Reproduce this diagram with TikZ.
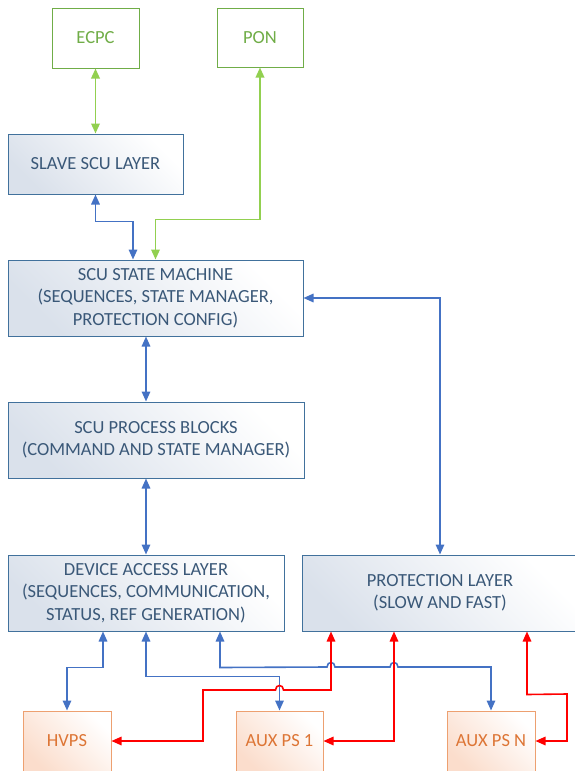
\documentclass[tikz,border=0pt]{standalone}
\usepackage{fontspec}
\setmainfont{Carlito}
\usepackage{tikz}
\usetikzlibrary{arrows.meta}

\definecolor{boxblue}{HTML}{41719C}
\definecolor{txtblue}{HTML}{3A5878}
\definecolor{fillblue}{HTML}{DAE1EB}
\definecolor{boxgreen}{HTML}{70AD47}
\definecolor{lnkgreen}{HTML}{92D050}
\definecolor{boxorange}{HTML}{EDA070}
\definecolor{txtorange}{HTML}{DD7535}
\definecolor{fillorange}{HTML}{FBDDCC}
\definecolor{lnkblue}{HTML}{4472C4}

\tikzset{
  layer/.style={draw=boxblue, line width=1pt, text=txtblue, align=center, inner sep=0pt,
    top color=fillblue, bottom color=white, shading angle=135},
  outside/.style={draw=boxgreen, line width=1pt, text=boxgreen, fill=white, inner sep=0pt},
  supply/.style={draw=boxorange, line width=1pt, text=txtorange, inner sep=0pt,
    top color=fillorange, bottom color=white, shading angle=135},
  bl/.style={lnkblue, line width=1.6pt, <->},
  gr/.style={lnkgreen, line width=1.8pt, <->},
  rd/.style={red, line width=1.6pt, <->}
}

\begin{document}
\begin{tikzpicture}[x=1pt, y=-1pt, >={Triangle[length=10pt,width=8.5pt]},
  every node/.style={font=\fontsize{18.5}{22.5}\selectfont}]

	\useasboundingbox (0,0) rectangle (575,771);
	\clip (0,0) rectangle (575,771);

	% outside world
	\node[outside, minimum width=87, minimum height=60] (ecpc) at (95.5,38) {ECPC};
	\node[outside, minimum width=86, minimum height=59] (pon) at (260,37.5) {PON};

	% scu layers
	\node[layer, minimum width=175, minimum height=60] (slave) at (95.5,164) {SLAVE SCU LAYER};
	\node[layer, minimum width=295, minimum height=76] (sm) at (155.5,298) {SCU STATE MACHINE\\(SEQUENCES, STATE MANAGER,\\PROTECTION CONFIG)};
	\node[layer, minimum width=296, minimum height=76] (pb) at (156,440) {SCU PROCESS BLOCKS\\(COMMAND AND STATE MANAGER)};
	\node[layer, minimum width=276, minimum height=76] (dal) at (146,593) {DEVICE ACCESS LAYER\\(SEQUENCES, COMMUNICATION,\\STATUS, REF GENERATION)};
	\node[layer, minimum width=276, minimum height=76] (prot) at (440,593) {PROTECTION LAYER\\(SLOW AND FAST)};

	% power supplies
	\node[supply, minimum width=88, minimum height=60] (hvps) at (67,741) {HVPS};
	\node[supply, minimum width=87, minimum height=60] (aux1) at (279.5,741) {AUX PS 1};
	\node[supply, minimum width=88, minimum height=60] (auxn) at (491,741) {AUX PS N};

	% green links
	\draw[gr] (ecpc.south) -- (slave.north);
	\draw[gr] (sm.north) -- ++(0,-40) -| (pon.south);

	% blue links
	\draw[bl] (slave.south) -- ++(0,27) -| ([xshift=-22.5pt]sm.north);
	\draw[bl] ([xshift=-9.5pt]sm.south) -- ([xshift=-10pt]pb.north);
	\draw[bl] ([xshift=-10pt]pb.south) -- (dal.north);
	\draw[bl] (sm.east) -| (prot.north);
	\draw[bl] ([xshift=-43pt]dal.south) -- ++(0,36) -| (hvps.north);
	\draw[bl] (dal.south) -- ++(0,45) -| (aux1.north);
	\draw[bl] ([xshift=74pt]dal.south) -- ++(0,36) -- (327,667)
		.. controls (327,661) and (335,661) .. (335,667) -- (390,667)
		.. controls (390,661) and (398,661) .. (398,667) -| (auxn.north);

	% red links
	\draw[rd] (hvps.east) -- (203,741) -- (203,690) -- (275.5,690)
		.. controls (275.5,684) and (283.5,684) .. (283.5,690) -| ([xshift=-109pt]prot.south);
	\draw[rd] ([xshift=-46pt]prot.south) |- (aux1.east);
	\draw[rd] ([xshift=87pt]prot.south) -- ++(0,63) -- (567,694) |- (auxn.east);

\end{tikzpicture}
\end{document}
